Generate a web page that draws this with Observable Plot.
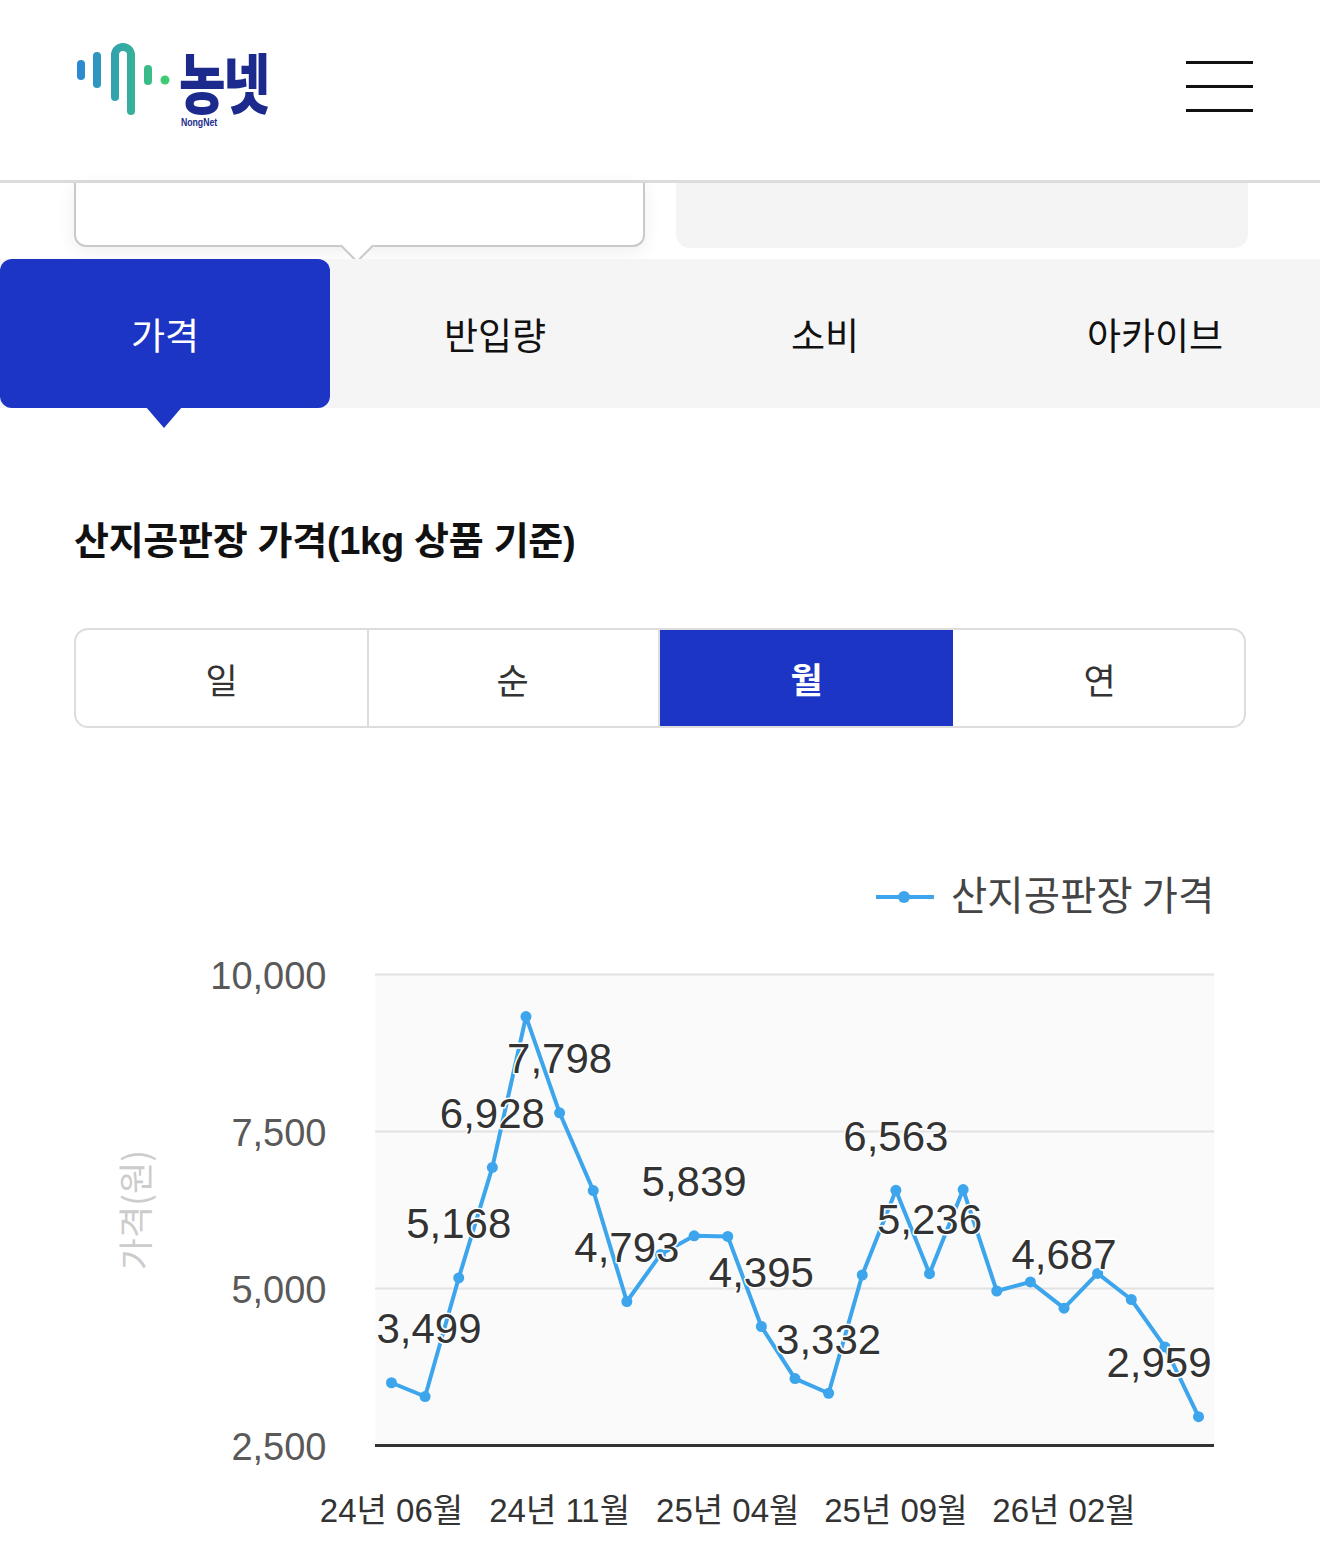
<!DOCTYPE html>
<html><head><meta charset="utf-8">
<script src="https://cdn.jsdelivr.net/npm/d3@7"></script>
<script src="https://cdn.jsdelivr.net/npm/@observablehq/plot@0.6"></script>
<style>
html,body{margin:0;padding:0}
body{width:1320px;height:1563px;overflow:hidden;background:#fff;position:relative;font-family:"Liberation Sans","Noto Sans CJK KR",sans-serif;color:#222}
.abs{position:absolute}
.ham{position:absolute;left:1186px;width:67px;height:3.5px;background:#111}
.tab{position:absolute;top:259px;width:330px;height:149px;display:flex;align-items:center;justify-content:center;font-size:37px;color:#111;font-family:"Noto Sans CJK KR",sans-serif}
.seg{position:absolute;top:0;height:100%;width:293px;display:flex;align-items:center;justify-content:center;font-size:35px;color:#333;font-family:"Noto Sans CJK KR",sans-serif;box-sizing:border-box}
#chart{position:absolute;left:0;top:940px}
</style></head><body>

<!-- header -->
<svg class="abs" style="left:0;top:0" width="300" height="140">
  <defs><linearGradient id="lg" x1="75" x2="170" y1="0" y2="0" gradientUnits="userSpaceOnUse">
    <stop offset="0" stop-color="#2b86d6"/><stop offset="1" stop-color="#3dcc72"/></linearGradient></defs>
  <g stroke="url(#lg)" stroke-width="8" stroke-linecap="round" fill="none">
    <path d="M81 64V76"/><path d="M97 56V84"/>
    <path d="M115 97V55A8 8 0 0 1 131 55V111"/><path d="M148 69V81"/>
  </g>
  <circle cx="165" cy="80" r="4.5" fill="#3dcc72"/>
  <text transform="translate(179,108) scale(0.97,1.25)" font-family="Noto Sans CJK KR" font-weight="900" font-size="52" fill="#1b2a8c"><tspan letter-spacing="-2">농넷</tspan><tspan x="2" y="14.4" font-family="Liberation Sans" font-weight="700" font-size="9" transform="scale(1)">NongNet</tspan></text>
</svg>
<div class="ham" style="top:60.5px"></div>
<div class="ham" style="top:84.5px"></div>
<div class="ham" style="top:108.5px"></div>
<div class="abs" style="left:0;top:180px;width:1320px;height:3px;background:#dcdcdc"></div>

<!-- cards under header -->
<div class="abs" style="left:74px;top:183px;width:567px;height:62px;background:#fff;border:2px solid #c9c9c9;border-top:none;border-radius:0 0 12px 12px;box-shadow:0 4px 18px rgba(0,0,0,0.07)"></div>
<div class="abs" style="left:345px;top:234px;width:22px;height:22px;background:#fff;border-right:2px solid #c9c9c9;border-bottom:2px solid #c9c9c9;transform:rotate(45deg)"></div>
<div class="abs" style="left:676px;top:183px;width:572px;height:65px;background:#f4f4f4;border-radius:0 0 14px 14px"></div>

<!-- tabs -->
<div class="abs" style="left:0;top:259px;width:1320px;height:149px;background:#f5f5f5"></div>
<div class="abs" style="left:0;top:259px;width:330px;height:149px;background:#1d35c4;border-radius:12px"></div>
<div class="abs" style="left:146px;top:407px;width:0;height:0;border-left:18px solid transparent;border-right:18px solid transparent;border-top:21px solid #1d35c4"></div>
<div class="tab" style="left:0;color:#fff">가격</div>
<div class="tab" style="left:330px">반입량</div>
<div class="tab" style="left:660px">소비</div>
<div class="tab" style="left:990px">아카이브</div>

<!-- title -->
<div class="abs" style="left:74px;top:515px;font-size:38px;line-height:52px;font-weight:700;color:#111;font-family:'Liberation Sans','Noto Sans CJK KR',sans-serif;letter-spacing:-0.3px">산지공판장 가격(1kg 상품 기준)</div>

<!-- period segment -->
<div class="abs" style="left:74px;top:628px;width:1172px;height:100px;border:2.5px solid #dddddd;border-radius:14px;box-sizing:border-box;overflow:hidden">
  <div class="seg" style="left:0;border-right:2px solid #dddddd">일</div>
  <div class="seg" style="left:291px;border-right:2px solid #dddddd">순</div>
  <div class="seg" style="left:584px;background:#1d35c4;color:#fff;font-weight:700;height:100px;top:-2.5px">월</div>
  <div class="seg" style="left:877px">연</div>
</div>

<!-- legend -->
<div id="legend" class="abs" style="left:876px;top:868px;width:420px;height:50px">
  <div class="abs" style="left:0;top:27px;width:58px;height:4px;background:#3da5ec"></div>
  <div class="abs" style="left:22px;top:23px;width:12px;height:12px;border-radius:50%;background:#3da5ec"></div>
  <div id="legendText" class="abs" style="left:75px;top:0;font-size:39.5px;line-height:50px;color:#444;font-family:'Noto Sans CJK KR',sans-serif;white-space:nowrap"></div>
</div>

<div id="chart"></div>

<script>
const months = ["24년 06월","24년 07월","24년 08월","24년 09월","24년 10월","24년 11월","24년 12월",
  "25년 01월","25년 02월","25년 03월","25년 04월","25년 05월","25년 06월","25년 07월","25년 08월","25년 09월","25년 10월","25년 11월","25년 12월",
  "26년 01월","26년 02월","26년 03월","26년 04월","26년 05월","26년 06월"];
const prices = [3499,3280,5168,6928,9330,7798,6560,4793,5540,5839,5830,4395,3565,3332,5215,6563,5236,6575,4960,5105,4687,5240,4825,4070,2959];
const labelShown = [1,0,1,1,0,1,0,1,0,1,0,1,0,1,0,1,1,0,0,0,1,0,0,0,1];
const yTicks = [2500,5000,7500,10000];
const xTicks = ["24년 06월","24년 11월","25년 04월","25년 09월","26년 02월"];
const seriesName = "산지공판장 가격";
const yTitle = "가격(원)";

document.getElementById("legendText").textContent = seriesName;

const data = months.map((m,i)=>({month:m, price:prices[i], shown:labelShown[i]===1, i}));
const last = data.length-1;
const fmt = d3.format(",");
const lineColor = "#3da5ec";
const labelOpts = {x:"month", y:"price", text:d=>fmt(d.price), dy:-53, fontSize:42, fill:"#333",
  stroke:"white", strokeWidth:3, lineAnchor:"middle"};

const chart = Plot.plot({
  width:1320, height:620,
  marginTop:34, marginBottom:115, marginLeft:375, marginRight:106,
  style:{fontFamily:'"Liberation Sans","Noto Sans CJK KR",sans-serif', background:"transparent", overflow:"visible"},
  x:{type:"point", domain:months, padding:0.475, round:false, label:null},
  y:{domain:[2500,10000], label:null},
  marks:[
    Plot.frame({fill:"#fafafa", stroke:null}),
    Plot.gridY(yTicks,{stroke:"#e2e2e2", strokeWidth:2, strokeOpacity:1}),
    Plot.ruleY([2500],{stroke:"#333", strokeWidth:3}),
    Plot.axisY(yTicks,{tickSize:0, tickPadding:49, fontSize:38, fill:"#595959", tickFormat:fmt, dy:2, label:null}),
    Plot.axisX(xTicks,{tickSize:0, tickPadding:53, fontSize:33, fill:"#333", label:null}),
    Plot.line(data,{x:"month", y:"price", stroke:lineColor, strokeWidth:4}),
    Plot.dot(data,{x:"month", y:"price", fill:lineColor, r:5.5}),
    Plot.text(data.filter(d=>d.shown && d.i===0), {...labelOpts, textAnchor:"start", dx:-15}),
    Plot.text(data.filter(d=>d.shown && d.i>0 && d.i<last), {...labelOpts, textAnchor:"middle"}),
    Plot.text(data.filter(d=>d.shown && d.i===last), {...labelOpts, textAnchor:"end", dx:13}),
    Plot.text([yTitle], {frameAnchor:"left", textAnchor:"middle", dx:-238, rotate:-90, fontSize:35, fill:"#cccccc",
      fontFamily:"Noto Sans CJK KR"})
  ]
});
document.getElementById("chart").appendChild(chart);
</script>
</body></html>
